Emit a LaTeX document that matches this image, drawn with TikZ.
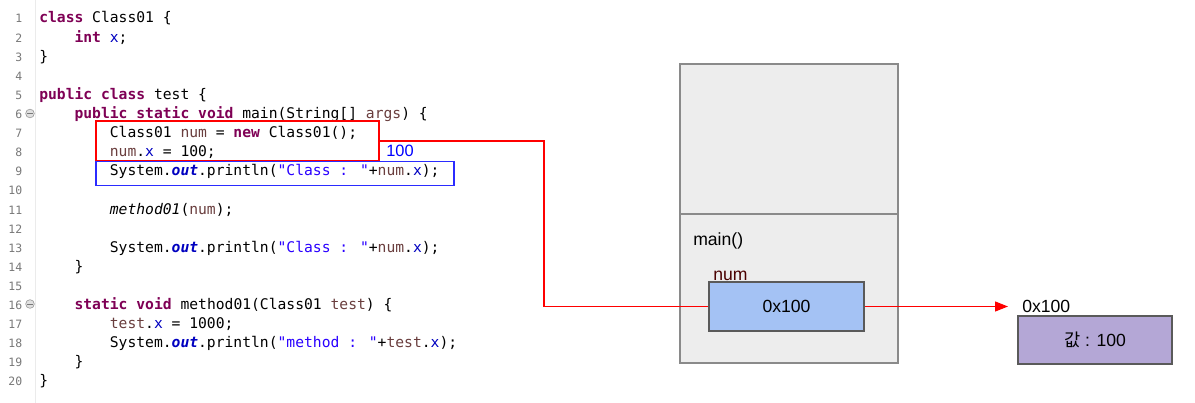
\documentclass[tikz,border=0pt]{standalone}
\usepackage{fontspec}
\setmainfont{Liberation Sans}
\newfontfamily\codefont{DejaVu Sans Mono}
\newfontfamily\krfont{Noto Sans CJK KR}
\usetikzlibrary{arrows.meta}
\definecolor{kwc}{HTML}{7F0055}
\definecolor{fieldc}{HTML}{0000C0}
\definecolor{strc}{HTML}{2A00FF}
\definecolor{localc}{HTML}{6A3E3E}
\definecolor{lnc}{HTML}{787878}
\definecolor{stackfill}{HTML}{EDEDED}
\definecolor{stackdraw}{HTML}{8A8A8A}
\definecolor{refblue}{HTML}{A4C2F4}
\definecolor{objpurple}{HTML}{B4A7D6}
\definecolor{boxdraw}{HTML}{5A5A5A}
\definecolor{hlblue}{HTML}{2B2BFF}
\definecolor{numred}{HTML}{4A0000}
\newcommand\kw[1]{{\color{kwc}\bfseries #1}}
\newcommand\fld[1]{{\color{fieldc}#1}}
\newcommand\strl[1]{{\color{strc}#1}}
\newcommand\lv[1]{{\color{localc}#1}}
\newcommand\sfld[1]{{\color{fieldc}\bfseries\itshape #1}}
\begin{document}
\begin{tikzpicture}[x=0.75pt,y=-0.75pt,
  codeline/.style={anchor=base west, inner sep=0pt, font=\codefont\fontsize{11}{13}\selectfont},
  lnum/.style={anchor=base east, inner sep=0pt, text=lnc, font=\codefont\fontsize{8.6}{10}\selectfont},
  diag/.style={inner sep=0pt, font=\fontsize{13.2}{15}\selectfont},
  stackbox/.style={draw=stackdraw, fill=stackfill, line width=1.2pt},
  valbox/.style={draw=boxdraw, line width=0.8pt, inner sep=0pt, font=\fontsize{13.2}{15}\selectfont},
  conn/.style={red, line width=0.8pt}
]
\useasboundingbox[fill=white] (0,0) rectangle (1195,403);
% gutter line
\draw[black!8, line width=0.6pt] (35.7,0) -- (35.7,403);
% line numbers
\foreach \i in {1,...,20}{
  \node[lnum] (n\i) at (22.5,{23+19.1*(\i-1)}) {\i};
}
% fold markers
\node[circle, draw=lnc!70, fill=black!12, line width=0.5pt, minimum size=6.5pt, inner sep=0pt] (f6) at (30,113.5) {};
\draw[lnc, line width=0.7pt] ([xshift=-2pt]f6.center) -- ([xshift=2pt]f6.center);
\node[circle, draw=lnc!70, fill=black!12, line width=0.5pt, minimum size=6.5pt, inner sep=0pt] (f16) at (30,304) {};
\draw[lnc, line width=0.7pt] ([xshift=-2pt]f16.center) -- ([xshift=2pt]f16.center);
% code
\def\ia{39}\def\ib{74.3}\def\ic{109.6}
\node[codeline] (l1) at (\ia,23) {\kw{class} Class01 \{};
\node[codeline] (l2) at (\ib,42.1) {\kw{int} \fld{x};};
\node[codeline] (l3) at (\ia,61.2) {\}};
\node[codeline] (l5) at (\ia,99.4) {\kw{public} \kw{class} test \{};
\node[codeline] (l6) at (\ib,118.5) {\kw{public} \kw{static} \kw{void} main(String[] \lv{args}) \{};
\node[codeline] (l7) at (\ic,137.6) {Class01 \lv{num} = \kw{new} Class01();};
\node[codeline] (l8) at (\ic,156.7) {\lv{num}.\fld{x} = 100;};
\node[codeline] (l9) at (\ic,175.8) {System.\sfld{out}.println(\strl{"Class : "}+\lv{num}.\fld{x});};
\node[codeline] (l11) at (\ic,214) {\textit{method01}(\lv{num});};
\node[codeline] (l13) at (\ic,252.2) {System.\sfld{out}.println(\strl{"Class : "}+\lv{num}.\fld{x});};
\node[codeline] (l14) at (\ib,271.3) {\}};
\node[codeline] (l16) at (\ib,309.5) {\kw{static} \kw{void} method01(Class01 \lv{test}) \{};
\node[codeline] (l17) at (\ic,328.6) {\lv{test}.\fld{x} = 1000;};
\node[codeline] (l18) at (\ic,347.7) {System.\sfld{out}.println(\strl{"method : "}+\lv{test}.\fld{x});};
\node[codeline] (l19) at (\ib,366.8) {\}};
\node[codeline] (l20) at (\ia,385.9) {\}};
% highlight boxes
\node[draw=red, line width=0.9pt, minimum width=283*0.75pt, minimum height=40*0.75pt, inner sep=0pt] (redbox) at (237.5,141) {};
\node[draw=hlblue, line width=0.9pt, minimum width=358*0.75pt, minimum height=24*0.75pt, inner sep=0pt] (bluebox) at (275,173.5) {};
\node[anchor=west, inner sep=0pt, text=blue, font=\fontsize{12.3}{14}\selectfont] (hundred) at (386,151) {100};
% stack
\node[stackbox, minimum width=218*0.75pt, minimum height=150*0.75pt, inner sep=0pt] (stacktop) at (789,139) {};
\node[stackbox, minimum width=218*0.75pt, minimum height=149*0.75pt, inner sep=0pt] (stackmain) at (789,288.5) {};
\node[diag, anchor=base west] (mainlbl) at (693,245) {main()};
\node[diag, anchor=base west, text=numred] (numlbl) at (713,280) {num};
\node[valbox, fill=refblue, minimum width=155*0.75pt, minimum height=49*0.75pt] (membox) at (786.5,306.5) {0x100};
% heap object
\node[valbox, fill=objpurple, minimum width=154*0.75pt, minimum height=48*0.75pt] (objbox) at (1095,340) {{\krfont 값} : 100};
\node[diag, anchor=base west] (addrlbl) at (1022,312) {0x100};
\coordinate (arrowtip) at (1008,306.5);
% connectors
\coordinate (turn) at (544,306.5);
\draw[conn] (redbox.east) -| (turn) -- (membox.west);
\draw[conn, -{Triangle[length=13*0.75pt, width=10*0.75pt]}] (membox.east) -- (arrowtip);
\end{tikzpicture}
\end{document}
